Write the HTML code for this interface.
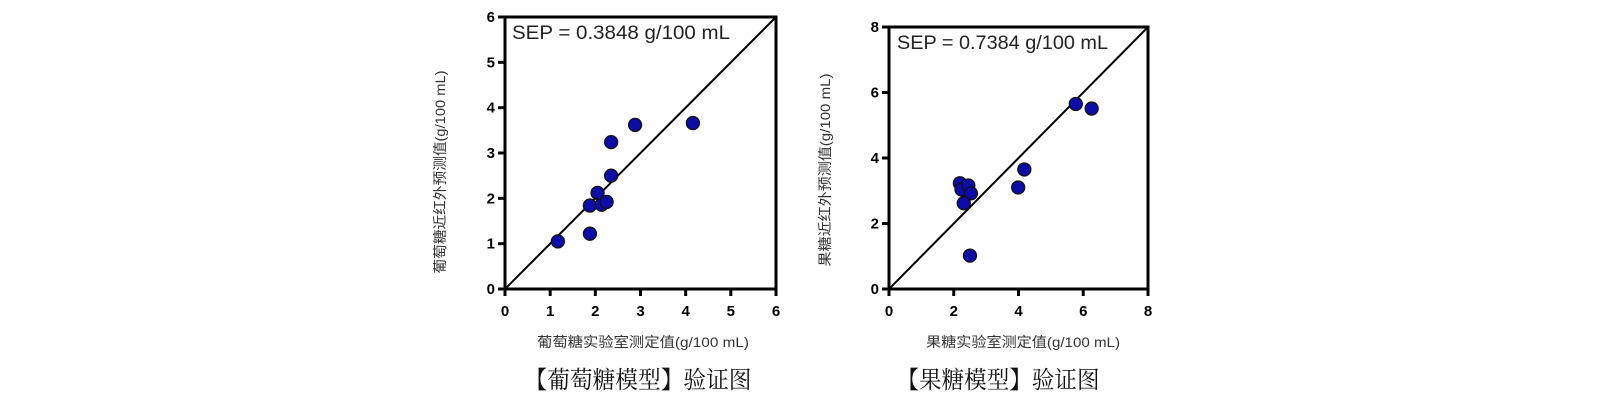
<!DOCTYPE html>
<html><head><meta charset="utf-8"><style>
html,body{margin:0;padding:0;background:#fff;width:1600px;height:406px;overflow:hidden}
svg text{font-family:"Liberation Sans","Noto Sans CJK SC",sans-serif}
</style></head><body>
<svg id="s" width="1600" height="406" viewBox="0 0 1600 406"></svg>
<script>
// Glucose chart data
const glucoseX = [1.17,1.88,1.88,2.05,2.14,2.25,2.35,2.35,2.88,4.16];
const glucoseY = [1.05,1.22,1.84,2.12,1.86,1.92,2.50,3.24,3.62,3.66];
const glucoseTicks = ["0","1","2","3","4","5","6"];
// Fructose chart data
const fructoseX = [2.19,2.24,2.45,2.53,2.31,2.50,3.99,4.18,5.77,6.26];
const fructoseY = [3.23,3.04,3.16,2.92,2.62,1.02,3.10,3.65,5.65,5.51];
const fructoseTicks = ["0","2","4","6","8"];

const NS="http://www.w3.org/2000/svg";
const svg=document.getElementById('s');
function mk(tag,attrs,parent){const e=document.createElementNS(NS,tag);for(const k in attrs)e.setAttribute(k,attrs[k]);(parent||svg).appendChild(e);return e;}

function chart(cfg){
  const g=mk('g',{});
  
  
  const max=+cfg.ticks[cfg.ticks.length-1];
  const sx=v=>cfg.x0+(v/max)*(cfg.x1-cfg.x0);
  const sy=v=>cfg.y0-(v/max)*(cfg.y0-cfg.y1);
  const d=mk('line',{x1:sx(0),y1:sy(0),x2:sx(max),y2:sy(max),stroke:'#000','stroke-width':2},g);
  
  
  const f=mk('rect',{x:cfg.x0,y:cfg.y1,width:cfg.x1-cfg.x0,height:cfg.y0-cfg.y1,fill:'none',stroke:'#000','stroke-width':3},g);
  
  
  cfg.ticks.forEach(t=>{
    const v=+t;
    const tx=mk('line',{x1:sx(v),y1:cfg.y0,x2:sx(v),y2:cfg.y0+7,stroke:'#000','stroke-width':3},g);
    
    
    const lx=mk('text',{x:sx(v),y:cfg.y0+27,'text-anchor':'middle','font-size':15,'font-weight':'bold'},g);
    lx.textContent=t;
    
    
    const ty=mk('line',{x1:cfg.x0-7,y1:sy(v),x2:cfg.x0,y2:sy(v),stroke:'#000','stroke-width':3},g);
    
    
    const ly=mk('text',{x:cfg.x0-10,y:sy(v)+5,'text-anchor':'end','font-size':15,'font-weight':'bold'},g);
    ly.textContent=t;
    
    
  });
  cfg.xs.forEach((xv,i)=>{
    const c=mk('circle',{cx:sx(xv),cy:sy(cfg.ys[i]),r:6.5,fill:'#0c0caa',stroke:'#111','stroke-width':1.3},g);
    
    
  });
  const sep=mk('text',{x:cfg.sepX,y:cfg.sepY,'font-size':19,fill:'#222',textLength:cfg.sepW,lengthAdjust:'spacingAndGlyphs'},g);
  sep.textContent=cfg.sep;
  
  
  const yt=mk('text',{x:0,y:0,'text-anchor':'middle','font-size':14,fill:'#333',textLength:cfg.ytW,lengthAdjust:'spacingAndGlyphs',transform:`translate(${cfg.ytX},${cfg.ytY}) rotate(-90)`},g);
  yt.textContent=cfg.ytitle;
  
  
  const xt=mk('text',{x:cfg.xtX,y:347,'text-anchor':'middle','font-size':14,fill:'#333',textLength:cfg.xtW,lengthAdjust:'spacingAndGlyphs'},g);
  xt.textContent=cfg.xtitle;
  
  
  const cap=mk('text',{x:cfg.capX,y:388,'text-anchor':'middle','font-size':24,fill:'#111',textLength:cfg.capW,lengthAdjust:'spacingAndGlyphs',style:'font-family:"Liberation Serif","Noto Serif CJK SC",serif'},g);
  cap.textContent=cfg.caption;
  
  
}

chart({name:'glucose-chart',x0:505,x1:776,y0:289,y1:17,ticks:glucoseTicks,xs:glucoseX,ys:glucoseY,
  sep:'SEP = 0.3848 g/100 mL',sepX:512,sepY:39,sepW:218,ytitle:'葡萄糖近红外预测值(g/100 mL)',ytX:445,ytY:172,ytW:203,
  xtitle:'葡萄糖实验室测定值(g/100 mL)',xtX:643,xtW:212,caption:'【葡萄糖模型】验证图',capX:638,capW:227});
chart({name:'fructose-chart',x0:889,x1:1148,y0:289,y1:27,ticks:fructoseTicks,xs:fructoseX,ys:fructoseY,
  sep:'SEP = 0.7384 g/100 mL',sepX:897,sepY:49,sepW:211,ytitle:'果糖近红外预测值(g/100 mL)',ytX:830,ytY:170,ytW:193,
  xtitle:'果糖实验室测定值(g/100 mL)',xtX:1023,xtW:194,caption:'【果糖模型】验证图',capX:998,capW:203});
</script>
</body></html>
